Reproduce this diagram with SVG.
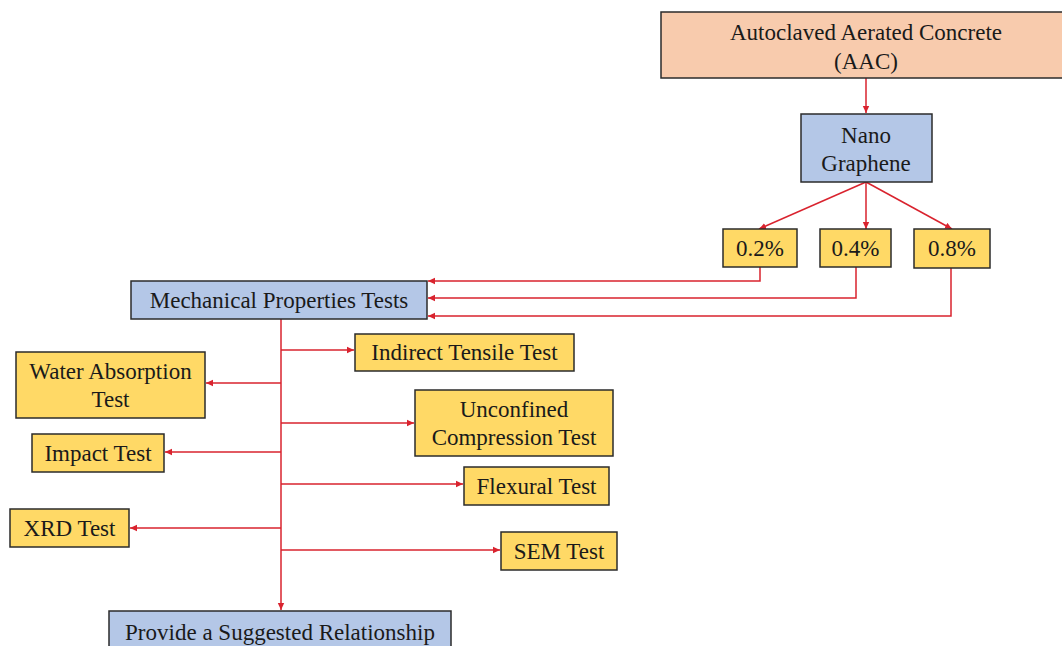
<svg xmlns="http://www.w3.org/2000/svg" width="1062" height="646" viewBox="0 0 1062 646">
<defs>
<marker id="ah" markerUnits="userSpaceOnUse" markerWidth="8" markerHeight="8" refX="7" refY="4" orient="auto">
<path d="M0,0.8 L7,4 L0,7.2 z" fill="#D9232E"/>
</marker>
<style>
.box{stroke:#2b2b2b;stroke-width:1.5}
.peach{fill:#F8CBAD}
.blue{fill:#B4C7E7}
.yel{fill:#FFD966}
text{font-family:"Liberation Serif","Times New Roman",serif;font-size:23px;fill:#1a1a1a;text-anchor:middle}
.ln{fill:none;stroke:#D9232E;stroke-width:1.5;marker-end:url(#ah)}
</style>
</defs>
<rect width="1062" height="646" fill="#ffffff"/>
<g id="connectors">
<path class="ln" d="M866,78 V113"/>
<path class="ln" d="M866,182 L759,229"/>
<path class="ln" d="M866,182 V229"/>
<path class="ln" d="M866,182 L952,229"/>
<path class="ln" d="M760,267 V281 H428"/>
<path class="ln" d="M856,267 V298 H428"/>
<path class="ln" d="M951,268 V316 H428"/>
<path class="ln" d="M281,319 V610"/>
<path class="ln" d="M281,350 H354"/>
<path class="ln" d="M281,383 H206"/>
<path class="ln" d="M281,423 H414"/>
<path class="ln" d="M281,452 H165"/>
<path class="ln" d="M281,484 H463"/>
<path class="ln" d="M281,528 H130"/>
<path class="ln" d="M281,550 H500"/>
</g>
<g id="aac">
<rect class="box peach" x="661" y="12" width="412" height="66"/>
<text x="866" y="40">Autoclaved Aerated Concrete</text>
<text x="866" y="69">(AAC)</text>
</g>
<g id="nano">
<rect class="box blue" x="801" y="114" width="131" height="68"/>
<text x="866" y="143">Nano</text>
<text x="866" y="171">Graphene</text>
</g>
<g id="p02">
<rect class="box yel" x="723" y="229" width="74" height="38"/>
<text x="760" y="256">0.2%</text>
</g>
<g id="p04">
<rect class="box yel" x="820" y="229" width="71" height="38"/>
<text x="855.5" y="256">0.4%</text>
</g>
<g id="p08">
<rect class="box yel" x="914" y="229" width="76" height="39"/>
<text x="952" y="256">0.8%</text>
</g>
<g id="mech">
<rect class="box blue" x="131" y="281" width="296" height="38"/>
<text x="279" y="308">Mechanical Properties Tests</text>
</g>
<g id="indirect">
<rect class="box yel" x="355" y="334" width="219" height="37"/>
<text x="464.5" y="360">Indirect Tensile Test</text>
</g>
<g id="water">
<rect class="box yel" x="16" y="352" width="189" height="66"/>
<text x="110.5" y="379">Water Absorption</text>
<text x="110.5" y="407">Test</text>
</g>
<g id="unconfined">
<rect class="box yel" x="415" y="390" width="198" height="66"/>
<text x="514" y="417">Unconfined</text>
<text x="514" y="445">Compression Test</text>
</g>
<g id="impact">
<rect class="box yel" x="32" y="434" width="132" height="38"/>
<text x="98" y="461">Impact Test</text>
</g>
<g id="flexural">
<rect class="box yel" x="464" y="467" width="145" height="38"/>
<text x="536.5" y="494">Flexural Test</text>
</g>
<g id="xrd">
<rect class="box yel" x="10" y="509" width="119" height="38"/>
<text x="69.5" y="536">XRD Test</text>
</g>
<g id="sem">
<rect class="box yel" x="501" y="532" width="116" height="38"/>
<text x="559" y="559">SEM Test</text>
</g>
<g id="provide">
<rect class="box blue" x="109" y="611" width="342" height="45"/>
<text x="280" y="640">Provide a Suggested Relationship</text>
</g>
</svg>
